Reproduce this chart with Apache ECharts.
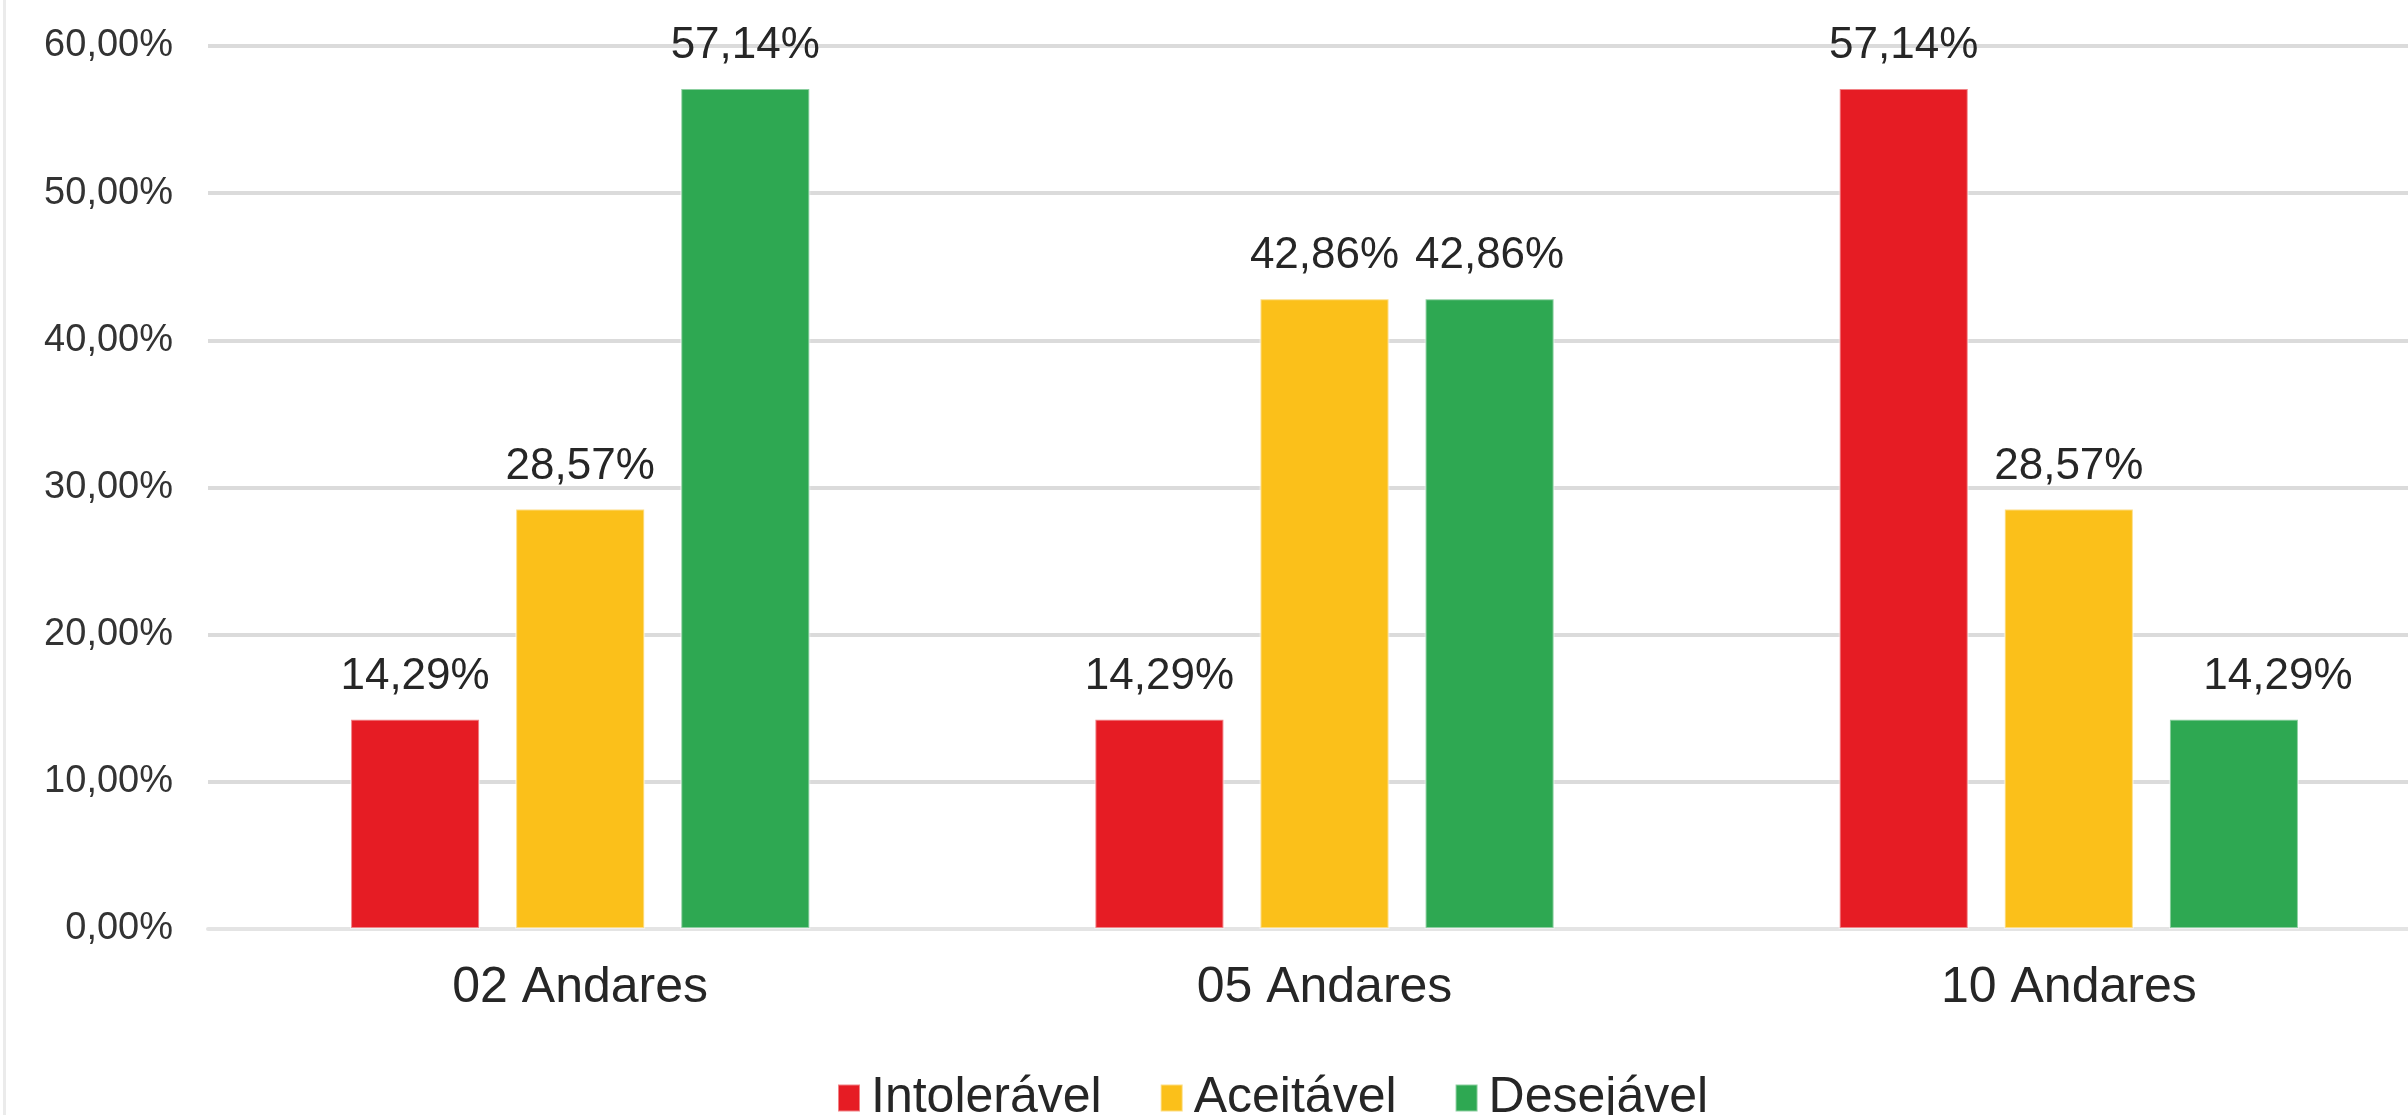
<!DOCTYPE html>
<html>
<head>
<meta charset="utf-8">
<script src="https://cdn.jsdelivr.net/npm/echarts@6/dist/echarts.min.js"></script>
<style>
  html, body { margin: 0; padding: 0; background: #fff; }
  #chart { width: 2408px; height: 1115px; }
</style>
</head>
<body>
<div id="chart"></div>
<script>
// Data
const categories = ['02 Andares', '05 Andares', '10 Andares'];
const seriesNames = ['Intolerável', 'Aceitável', 'Desejável'];
const intoleravel = [14.29, 14.29, 57.14];
const aceitavel = [28.57, 42.86, 28.57];
const desejavel = [57.14, 42.86, 14.29];
const yTicks = [0, 10, 20, 30, 40, 50, 60];

const colors = ['#E61C24', '#FBC01A', '#2EA852'];
const FONT = '"Liberation Sans", Arial, sans-serif';

// Brazilian style percent: 14,29%
function pct(v) {
    return v.toFixed(2).replace('.', ',') + '%';
}

function makeSeries(name, values, color, idx) {
    return {
        name: name,
        type: 'bar',
        data: values.map((v, i) => {
            const item = { value: v };
            // the last label in the reference sits a bit to the right of its bar
            if (idx === 2 && i === 2) item.label = { offset: [44, 0] };
            return item;
        }),
        barWidth: 130,
        barGap: '27%',
        itemStyle: { color: color, borderColor: 'rgba(255,255,255,0.45)', borderWidth: 2 },
        label: {
            show: true,
            position: 'top',
            distance: 20,
            formatter: p => pct(p.value),
            fontFamily: FONT,
            fontSize: 44,
            color: '#262626'
        }
    };
}

const chart = echarts.init(document.getElementById('chart'));

chart.setOption({
    animation: false,
    backgroundColor: '#fff',
    grid: {
        left: 208, width: 2233, top: 46, height: 883,
        containLabel: false,
        outerBoundsMode: 'none'   // the plot runs past the right edge in the reference
    },
    legend: {
        data: seriesNames,
        left: 832,
        top: 1068,
        itemWidth: 22,
        itemHeight: 27,
        itemGap: 58,
        icon: 'rect',
        textStyle: { fontFamily: FONT, fontSize: 50, color: '#262626', padding: [0, 0, 0, 6] }
    },
    xAxis: {
        type: 'category',
        data: categories,
        axisTick: { show: false },
        axisLine: { show: true, lineStyle: { color: '#e4e4e4', width: 4 } },
        axisLabel: { fontFamily: FONT, fontSize: 50, color: '#262626', margin: 34 }
    },
    yAxis: {
        type: 'value',
        min: yTicks[0],
        max: yTicks[yTicks.length - 1],
        interval: yTicks[1] - yTicks[0],
        axisLine: { show: false },
        axisTick: { show: false },
        splitLine: { lineStyle: { color: '#dbdbdb', width: 4 } },
        axisLabel: {
            formatter: v => pct(v),
            fontFamily: FONT,
            fontSize: 38,
            color: '#333',
            margin: 35
        }
    },
    graphic: [{
        type: 'rect',
        shape: { x: 3, y: 0, width: 3, height: 1115 },
        style: { fill: '#ebebeb' },
        silent: true
    }],
    series: [
        makeSeries(seriesNames[0], intoleravel, colors[0], 0),
        makeSeries(seriesNames[1], aceitavel, colors[1], 1),
        makeSeries(seriesNames[2], desejavel, colors[2], 2)
    ]
});
</script>
</body>
</html>
